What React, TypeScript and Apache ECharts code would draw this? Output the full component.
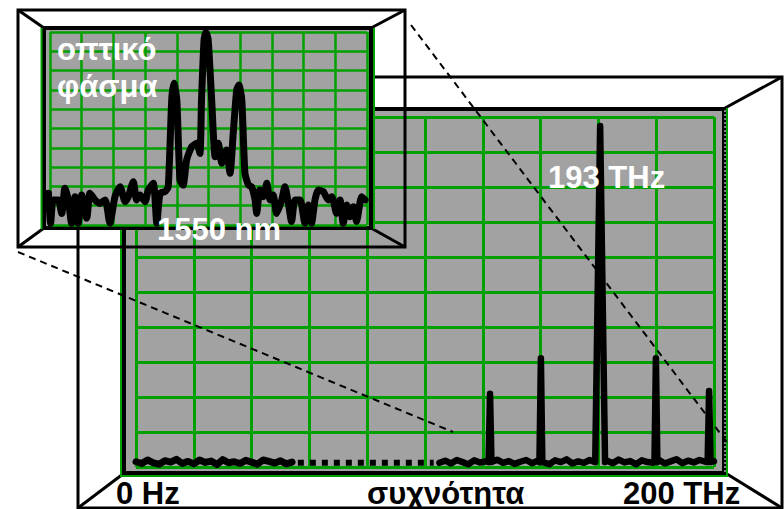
import React, { useEffect, useRef } from "react";
import * as echarts from "echarts";

// ---- main spectrum (x: axis units 0..200, y: grid divisions 0..10) ----
const mainLeftX = [0, 2, 4, 6, 8, 10, 12, 14, 16, 18, 20, 22, 24, 26, 28, 30, 32, 34, 36, 38, 40, 42, 44, 46, 48, 50, 52, 54];
const mainLeftY = [0.15, 0.1, 0.2, 0.12, 0.08, 0.18, 0.14, 0.22, 0.1, 0.16, 0.09, 0.2, 0.13, 0.17, 0.07, 0.21, 0.12, 0.15, 0.1, 0.19, 0.14, 0.08, 0.2, 0.16, 0.11, 0.18, 0.09, 0.14];
const mainGapX = [56, 103];
const mainGapY = [0.12, 0.12];
const mainRightX = [105, 107, 109, 111, 113, 115, 117, 119, 121, 123, 125, 127, 129, 131, 133, 135, 137, 139, 141, 143, 145, 147, 149, 151, 153, 155, 157, 159, 161, 163, 165, 167, 169, 171, 173, 175, 177, 179, 181, 183, 185, 187, 189, 191, 193, 195, 197, 199, 200];
const mainRightY = [0.12, 0.18, 0.1, 0.2, 0.14, 0.08, 0.19, 0.13, 0.16, 0.1, 0.21, 0.12, 0.17, 0.09, 0.15, 0.2, 0.11, 0.18, 0.13, 0.08, 0.19, 0.14, 0.22, 0.1, 0.16, 0.12, 0.2, 0.09, 0.15, 0.18, 0.11, 0.21, 0.13, 0.17, 0.08, 0.19, 0.14, 0.12, 0.2, 0.1, 0.16, 0.22, 0.11, 0.18, 0.13, 0.2, 0.15, 0.12, 0.16];
const peakPos = [122.5, 140.1, 160.6, 179.9, 198.3];
const peakHeight = [2.09, 3.11, 9.74, 3.11, 2.17];
const peakHalfWidth = [0.5, 0.5, 1.7, 0.5, 0.5];
const peakBase = 0.14;

// ---- inset optical spectrum (x: 0..100, y: 0..10) ----
const insetX = [-0.5, 0.2, 1.0, 2.6, 3.7, 4.7, 5.8, 6.8, 7.9, 8.9, 10.0, 11.6, 12.6, 14.2, 15.8, 17.4, 18.9, 20.5, 22.1, 23.7, 24.7, 26.3, 27.3, 28.4, 30.0, 31.0, 32.6, 33.7, 34.7, 36.3, 37.3, 38.4, 39.1, 40.0, 41.0, 42.0, 43.1, 44.7, 46.3, 47.3, 47.8, 48.6, 49.2, 49.9, 51.0, 52.1, 53.1, 54.2, 55.7, 56.8, 57.8, 58.9, 59.6, 60.5, 61.5, 62.6, 63.6, 64.7, 65.2, 66.2, 67.3, 68.4, 69.4, 70.4, 71.5, 73.1, 74.1, 75.2, 76.2, 77.3, 78.9, 80.4, 81.5, 82.5, 83.6, 84.6, 86.2, 87.8, 88.9, 90.4, 91.5, 92.5, 93.6, 94.6, 95.7, 96.7, 98.3, 99.4];
const insetY = [1.64, 0.09, 1.3, 1.3, 0.6, 1.9, 1.3, 0.09, 1.47, 0.09, 1.55, 0.35, 1.64, 1.3, 1.12, 1.3, 0.09, 1.47, 1.98, 1.21, 1.47, 2.24, 1.3, 1.55, 1.21, 1.81, 2.16, 0.09, 1.64, 1.73, 1.98, 6.48, 7.34, 6.48, 2.33, 2.07, 3.37, 4.06, 4.23, 3.71, 6.48, 9.59, 10.0, 9.59, 6.48, 3.54, 4.23, 3.2, 3.89, 2.68, 4.75, 7.0, 7.25, 6.48, 2.68, 2.07, 1.98, 1.3, 0.6, 1.81, 1.47, 2.16, 1.3, 1.55, 0.6, 1.3, 1.98, 1.12, 0.18, 1.3, 1.3, 0.09, 1.04, 0.09, 1.3, 1.81, 1.73, 1.3, 1.47, 0.6, 1.3, 0.09, 1.04, 0.43, 0.95, 0.18, 1.47, 1.3];

// ---- texts ----
const insetTitle = ["οπτικό", "φάσμα"];
const insetCenterLabel = "1550 nm";
const peakLabel = "193 THz";
const axisStartLabel = "0 Hz";
const axisTitle = "συχνότητα";
const axisEndLabel = "200 THz";

const GREEN = "#00a000";
const GRAY = "#a2a2a2";
const FONT = '"Liberation Sans", Arial, Helvetica, sans-serif';

function zip(xs: number[], ys: number[]) {
  return xs.map((x, i) => [x, ys[i]]);
}

function buildRight() {
  const pts: number[][] = [];
  mainRightX.forEach((x, i) => {
    const near = peakPos.some((p, k) => Math.abs(x - p) <= peakHalfWidth[k] + 0.3);
    if (!near) pts.push([x, mainRightY[i]]);
  });
  peakPos.forEach((p, k) => {
    pts.push([p - peakHalfWidth[k], peakBase]);
    pts.push([p, peakHeight[k]]);
    pts.push([p + peakHalfWidth[k], peakBase]);
  });
  pts.sort((a, b) => a[0] - b[0]);
  return pts;
}

function line(x1: number, y1: number, x2: number, y2: number, z: number, w = 3, dash?: number[], color = "#000") {
  return {
    type: "line",
    z,
    silent: true,
    shape: { x1, y1, x2, y2 },
    style: { stroke: color, lineWidth: w, lineDash: dash, lineCap: "butt" },
  };
}

function text(t: string, x: number, y: number, color: string, z = 12) {
  return {
    type: "text",
    z,
    x,
    y,
    silent: true,
    style: {
      text: t,
      fill: color,
      fontSize: 31,
      fontWeight: "bold",
      fontFamily: FONT,
      textAlign: "left",
      textVerticalAlign: "middle",
    },
  };
}

export default function App() {
  const ref = useRef<HTMLDivElement>(null);
  useEffect(() => {
    if (!ref.current) return;
    const chart = echarts.init(ref.current, null, { renderer: "svg" });

    const hiddenAxis = {
      axisLine: { show: false },
      axisTick: { show: false },
      axisLabel: { show: false },
    };

    const graphic: any[] = [
      // main frame
      { type: "rect", z: 1, silent: true, shape: { x: 78, y: 77, width: 704, height: 431 }, style: { fill: "#fff", stroke: "#000", lineWidth: 3 } },
      line(78, 77, 123, 108, 1),
      line(782, 77, 725, 108, 1),
      line(78, 508, 123, 474, 1),
      line(782, 508, 727, 474, 1),
      { type: "rect", z: 2, silent: true, shape: { x: 124, y: 109, width: 600, height: 364 }, style: { fill: GRAY, stroke: "#000", lineWidth: 4 } },
      { type: "polyline", z: 2, silent: true, shape: { points: [[121, 108], [121, 476], [727, 476], [727, 108]] }, style: { stroke: GREEN, lineWidth: 2, fill: null } },
      line(725, 110, 725, 474, 2, 1, [2, 2], "#ffffff"),
      // dashed zoom lines
      line(18, 252, 453, 432, 6, 2, [7, 5]),
      line(411, 25, 729, 445, 6, 2, [7, 5]),
      // inset frame (bevel is see-through)
      { type: "rect", z: 7, silent: true, shape: { x: 18, y: 10, width: 387, height: 237 }, style: { fill: "none", stroke: "#000", lineWidth: 3 } },
      line(18, 10, 44, 28, 7),
      line(405, 10, 371, 28, 7),
      line(18, 247, 44, 228, 7),
      line(405, 247, 371, 228, 7),
      { type: "rect", z: 8, silent: true, shape: { x: 44, y: 28, width: 327, height: 200 }, style: { fill: GRAY, stroke: "#000", lineWidth: 4 } },
      line(41.5, 28, 41.5, 229, 8, 2, undefined, GREEN),
      line(374, 28, 374, 229, 8, 2, undefined, GREEN),
      // labels
      text(insetTitle[0], 57, 49, "#fff"),
      text(insetTitle[1], 57, 86, "#fff"),
      text(insetCenterLabel, 157, 229, "#fff"),
      text(peakLabel, 548, 177, "#fff"),
      text(axisStartLabel, 116, 493, "#000"),
      text(axisTitle, 367, 493, "#000"),
      text(axisEndLabel, 623, 493, "#000"),
    ];

    const option: any = {
      animation: false,
      backgroundColor: "#fff",
      grid: [
        { left: 136, top: 117, width: 578, height: 350 },
        { left: 50, top: 32, width: 317, height: 193 },
      ],
      xAxis: [
        { gridIndex: 0, type: "value", min: 0, max: 200, interval: 20, z: 3, ...hiddenAxis, splitLine: { show: true, lineStyle: { color: GREEN, width: 3 } } },
        { gridIndex: 1, type: "value", min: 0, max: 100, interval: 10, z: 9, ...hiddenAxis, splitLine: { show: true, lineStyle: { color: GREEN, width: 2.5 } } },
      ],
      yAxis: [
        { gridIndex: 0, type: "value", min: 0, max: 10, interval: 1, z: 3, ...hiddenAxis, splitLine: { show: true, lineStyle: { color: GREEN, width: 3 } } },
        { gridIndex: 1, type: "value", min: 0, max: 10, interval: 1, z: 9, ...hiddenAxis, splitLine: { show: true, lineStyle: { color: GREEN, width: 2.5 } } },
      ],
      series: [
        {
          type: "line", xAxisIndex: 0, yAxisIndex: 0, z: 4, clip: false, silent: true,
          symbol: "none", data: zip(mainLeftX, mainLeftY),
          lineStyle: { color: "#000", width: 7, cap: "round", join: "round" },
        },
        {
          type: "line", xAxisIndex: 0, yAxisIndex: 0, z: 4, clip: false, silent: true,
          symbol: "none", data: zip(mainGapX, mainGapY),
          lineStyle: { color: "#000", width: 6, type: [6, 6], cap: "butt" },
        },
        {
          type: "line", xAxisIndex: 0, yAxisIndex: 0, z: 4, clip: false, silent: true,
          symbol: "none", data: buildRight(),
          lineStyle: { color: "#000", width: 6.5, cap: "round", join: "round" },
        },
        {
          type: "line", xAxisIndex: 1, yAxisIndex: 1, z: 10, clip: false, silent: true,
          symbol: "none", smooth: 0.2, data: zip(insetX, insetY),
          lineStyle: { color: "#000", width: 7, cap: "round", join: "round" },
        },
      ],
      graphic: { elements: graphic },
    };
    chart.setOption(option);
    return () => chart.dispose();
  }, []);
  return (
    <div
      ref={ref}
      style={{ position: "fixed", left: 0, top: 0, width: 784, height: 509, background: "#fff" }}
    />
  );
}
